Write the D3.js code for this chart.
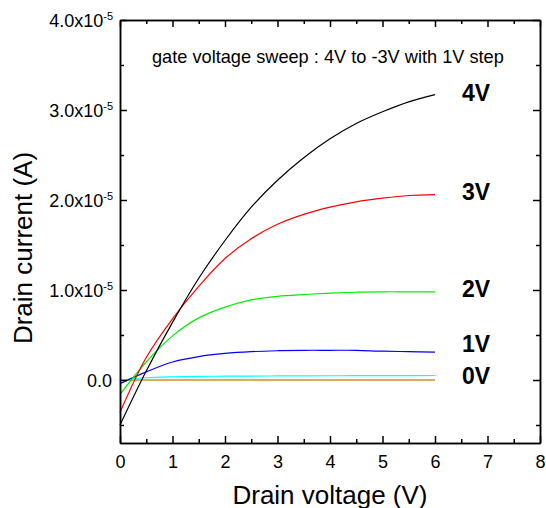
<!DOCTYPE html>
<html lang="en">
<head>
  <meta charset="utf-8">
  <title>Drain current vs drain voltage</title>
  <script src="https://cdn.jsdelivr.net/npm/d3@7"></script>
  <style>
    body { margin: 0; background: #fff; }
    text { font-family: "Liberation Sans", Arial, sans-serif; fill: #000; }
    .axis path, .axis line { stroke: #000; stroke-width: 1.5; }
    .axis text { font-size: 18px; font-family: "Liberation Sans", Arial, sans-serif; }
    .curve { fill: none; stroke-width: 1.2; }
  </style>
</head>
<body>
  <div id="chart"></div>

  <script>
    // drain voltage (V) at which the curves were read
    var vd = [0, 0.5, 1, 1.5, 2, 2.5, 3, 3.5, 4, 4.5, 5, 5.5, 6];

    // drain current, in units of 1e-5 A
    var g4 = [-0.50, 0.10, 0.64, 1.13, 1.55, 1.92, 2.22, 2.47, 2.68, 2.85, 2.98, 3.09, 3.17];
    var g3 = [-0.36, 0.25, 0.68, 1.04, 1.35, 1.57, 1.73, 1.84, 1.92, 1.98, 2.02, 2.05, 2.06];
    var g2 = [-0.16, 0.20, 0.49, 0.69, 0.81, 0.89, 0.93, 0.95, 0.965, 0.975, 0.98, 0.98, 0.98];
    var g1 = [-0.04, 0.09, 0.20, 0.26, 0.295, 0.315, 0.325, 0.33, 0.33, 0.33, 0.32, 0.315, 0.31];
    var g0 = [0.0, 0.025, 0.035, 0.04, 0.042, 0.044, 0.045, 0.046, 0.047, 0.048, 0.048, 0.049, 0.05];
    var gm1 = [0, 0, 0, 0, 0, 0, 0, 0, 0, 0, 0, 0, 0];
    var gm2 = [0, 0, 0, 0, 0, 0, 0, 0, 0, 0, 0, 0, 0];
    var gm3 = [0, 0, 0, 0, 0, 0, 0, 0, 0, 0, 0, 0, 0];

    var series = [
      { name: "-1V", vals: gm1, color: "#ff00ff", w: 1.2 },
      { name: "-2V", vals: gm2, color: "#ffff00", w: 1.2 },
      { name: "-3V", vals: gm3, color: "#b59a3a", w: 2.2 },
      { name: "0V", vals: g0, color: "#00ffff", w: 1.2 },
      { name: "1V", vals: g1, color: "#0000ff", w: 1.2 },
      { name: "2V", vals: g2, color: "#00ee00", w: 1.2 },
      { name: "3V", vals: g3, color: "#ff0000", w: 1.2 },
      { name: "4V", vals: g4, color: "#000000", w: 1.2 }
    ];

    // curve labels and the current (1e-5 A) their baseline sits at
    var labelText = ["4V", "3V", "2V", "1V", "0V"];
    var labelAt = [3.10, 2.00, 0.92, 0.31, -0.04];

    var xTicks = [0, 1, 2, 3, 4, 5, 6, 7, 8];
    var yTicks = [0, 1, 2, 3, 4];

    var W = 546, H = 508;
    var mLeft = 120, mRight = 540, mTop = 20, mBottom = 443;

    var svg = d3.select("#chart").append("svg")
      .attr("width", W)
      .attr("height", H);

    var x = d3.scaleLinear().domain([0, 8]).range([mLeft, mRight]);
    var y = d3.scaleLinear().domain([-0.7, 4.0]).range([mBottom, mTop]);

    var xMinor = d3.range(0.5, 8, 1);
    var yMinor = d3.range(-0.5, 4, 1);

    // curves
    var line = d3.line()
      .x(function(d, i) { return x(vd[i]); })
      .y(function(d) { return y(d); })
      .curve(d3.curveCatmullRom.alpha(0.5));

    svg.selectAll(".curve")
      .data(series)
      .enter()
      .append("path")
      .attr("class", "curve")
      .attr("stroke", function(d) { return d.color; })
      .attr("stroke-width", function(d) { return d.w; })
      .attr("d", function(d) { return line(d.vals); });

    // axes, ticks pointing inward on all four sides
    function addAxis(axis, tx, ty) {
      return svg.append("g")
        .attr("class", "axis")
        .attr("transform", "translate(" + tx + "," + ty + ")")
        .call(axis);
    }

    addAxis(d3.axisBottom(x).tickValues(xTicks).tickSize(-7).tickSizeOuter(0).tickPadding(12), 0, mBottom);
    addAxis(d3.axisBottom(x).tickValues(xMinor).tickSize(-4).tickSizeOuter(0).tickFormat(""), 0, mBottom);
    addAxis(d3.axisTop(x).tickValues(xTicks).tickSize(-7).tickSizeOuter(0).tickFormat(""), 0, mTop);
    addAxis(d3.axisTop(x).tickValues(xMinor).tickSize(-4).tickSizeOuter(0).tickFormat(""), 0, mTop);

    var leftAx = addAxis(d3.axisLeft(y).tickValues(yTicks).tickSize(-7).tickSizeOuter(0).tickPadding(8), mLeft, 0);
    addAxis(d3.axisLeft(y).tickValues(yMinor).tickSize(-4).tickSizeOuter(0).tickFormat(""), mLeft, 0);
    addAxis(d3.axisRight(y).tickValues(yTicks).tickSize(-7).tickSizeOuter(0).tickFormat(""), mRight, 0);
    addAxis(d3.axisRight(y).tickValues(yMinor).tickSize(-4).tickSizeOuter(0).tickFormat(""), mRight, 0);

    // y labels written as 1.0x10^-5
    leftAx.selectAll("text").each(function(d) {
      var t = d3.select(this).text("")
        .attr("x", -7)
        .attr("dy", "0.36em");
      if (d === 0) {
        t.text("0.0").attr("x", -8);
      } else {
        t.append("tspan").text(d.toFixed(1) + "x10");
        t.append("tspan").style("font-size", "11px").attr("dy", "-7").text("-5");
      }
    });

    // curve labels
    svg.selectAll(".vlabel")
      .data(labelText)
      .enter()
      .append("text")
      .attr("class", "vlabel")
      .attr("x", 462)
      .attr("y", function(d, i) { return y(labelAt[i]); })
      .style("font-size", "23px")
      .style("font-weight", "bold")
      .text(function(d) { return d; });

    svg.append("text")
      .attr("x", 152)
      .attr("y", 63)
      .style("font-size", "18.2px")
      .text("gate voltage sweep : 4V to -3V with 1V step");

    // axis titles
    svg.append("text")
      .attr("x", (mLeft + mRight) / 2)
      .attr("y", 504)
      .attr("text-anchor", "middle")
      .style("font-size", "26px")
      .text("Drain voltage (V)");

    svg.append("text")
      .attr("transform", "translate(32,248) rotate(-90)")
      .attr("text-anchor", "middle")
      .style("font-size", "26px")
      .text("Drain current (A)");
  </script>
</body>
</html>
